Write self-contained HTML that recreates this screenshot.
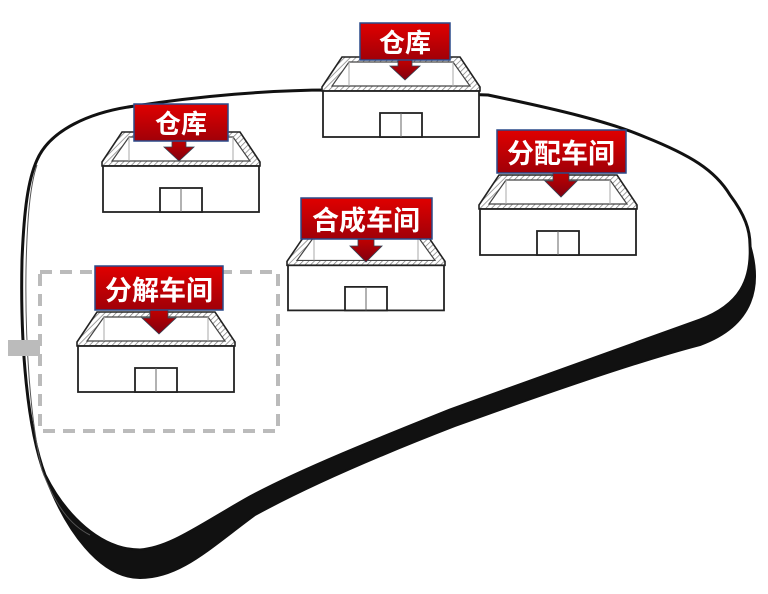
<!DOCTYPE html>
<html><head><meta charset="utf-8"><style>
html,body{margin:0;padding:0;background:#fff;}
svg{display:block;}
text{font-family:"Liberation Sans","Noto Sans CJK SC",sans-serif;font-weight:bold;fill:#fff;}
</style></head><body>
<svg width="768" height="594" viewBox="0 0 768 594" xmlns="http://www.w3.org/2000/svg">
<defs>
<linearGradient id="rg" x1="0" y1="0" x2="0" y2="1">
<stop offset="0" stop-color="#e00000"/><stop offset="1" stop-color="#a00008"/></linearGradient>
<linearGradient id="ag" x1="0" y1="0" x2="0" y2="1">
<stop offset="0" stop-color="#c00000"/><stop offset="1" stop-color="#800010"/></linearGradient>
<pattern id="hatch" width="4" height="4" patternUnits="userSpaceOnUse" patternTransform="rotate(45)">
<rect width="4" height="4" fill="#fff"/><line x1="0" y1="0" x2="0" y2="4" stroke="#777" stroke-width="1.4"/></pattern>
<g id="bld">
<path d="M20,0 L138,0 L158,30 L158,34 L0,34 L0,30 Z" fill="url(#hatch)" stroke="#222" stroke-width="1.6"/>
<path d="M27,5 L131,5 L148,29 L10,29 Z" fill="#fff" stroke="#444" stroke-width="1.2"/>
<line x1="27" y1="5" x2="27" y2="29" stroke="#aaa" stroke-width="1"/>
<line x1="131" y1="5" x2="131" y2="29" stroke="#aaa" stroke-width="1"/>
<rect x="1" y="34" width="156" height="46" fill="#fff" stroke="#222" stroke-width="1.8"/>
<rect x="58" y="56" width="42" height="24" fill="#fff" stroke="#222" stroke-width="1.8"/>
<line x1="79" y1="56" x2="79" y2="80" stroke="#666" stroke-width="1"/>
</g>
</defs>

<!-- island -->
<path d="M37,160 C50,130 90,112 135,106 C200,96 270,90 330,90 L488,95 C560,110 610,122 645,137 C690,155 715,170 730,195 C745,215 750,230 750,245 C752,280 740,305 700,320 C660,335 560,370 450,410 C380,438 300,470 250,497 C200,525 170,548 140,550 C100,550 65,515 45,475 C28,430 20,350 22,260 C24,210 28,180 37,160 Z" fill="#fff" stroke="#111" stroke-width="3"/>
<path d="M750,245 C752,280 740,305 700,320 C660,335 560,370 450,410 C380,438 300,470 250,497 C200,525 170,548 140,550 C100,550 65,515 45,475 C65,530 100,578 140,578 C180,578 210,548 255,515 C310,485 380,455 455,426 C560,388 650,358 700,345 C755,325 762,285 750,245 Z" fill="#111" stroke="#111" stroke-width="2"/>
<path d="M37,165 C30,185 27,220 26,270 C25,340 30,420 42,470 C55,505 70,525 90,535" fill="none" stroke="#555" stroke-width="1"/>
<rect x="8" y="340" width="32" height="16" fill="#bbb"/>

<!-- dashed rect -->
<rect x="40" y="272" width="238" height="159" fill="none" stroke="#bbb" stroke-width="4" stroke-dasharray="12,8"/>

<!-- buildings -->
<use href="#bld" transform="translate(77,312)"/>
<use href="#bld" transform="translate(102,132)"/>
<use href="#bld" transform="translate(322,57)"/>
<use href="#bld" transform="translate(287,232) scale(1,0.98)"/>
<use href="#bld" transform="translate(479,175)"/>

<!-- labels -->
<g>
<path d="M150,310 h18 v8 h8 l-17,16 l-17,-16 h8 z" fill="url(#ag)" stroke="#345" stroke-width="0.8"/>
<rect x="95" y="266" width="128" height="44" fill="url(#rg)" stroke="#2a4a8a" stroke-width="1.5"/>
<text x="159" y="300" font-size="27" text-anchor="middle">分解车间</text>
</g>
<g>
<path d="M172,141 h14 v6 h8 l-15,14 l-15,-14 h8 z" fill="url(#ag)" stroke="#345" stroke-width="0.8"/>
<rect x="134" y="104" width="94" height="37" fill="url(#rg)" stroke="#2a4a8a" stroke-width="1.5"/>
<text x="181" y="133" font-size="26" text-anchor="middle">仓库</text>
</g>
<g>
<path d="M398,60 h14 v6 h8 l-15,14 l-15,-14 h8 z" fill="url(#ag)" stroke="#345" stroke-width="0.8"/>
<rect x="360" y="23" width="90" height="37" fill="url(#rg)" stroke="#2a4a8a" stroke-width="1.5"/>
<text x="405" y="52" font-size="26" text-anchor="middle">仓库</text>
</g>
<g>
<path d="M358,239 h16 v7 h8 l-16,16 l-16,-16 h8 z" fill="url(#ag)" stroke="#345" stroke-width="0.8"/>
<rect x="301" y="198" width="131" height="41" fill="url(#rg)" stroke="#2a4a8a" stroke-width="1.5"/>
<text x="366" y="230" font-size="27" text-anchor="middle">合成车间</text>
</g>
<g>
<path d="M553,173 h16 v8 h8 l-16,16 l-16,-16 h8 z" fill="url(#ag)" stroke="#345" stroke-width="0.8"/>
<rect x="497" y="130" width="129" height="43" fill="url(#rg)" stroke="#2a4a8a" stroke-width="1.5"/>
<text x="561" y="163" font-size="27" text-anchor="middle">分配车间</text>
</g>
</svg>
</body></html>
